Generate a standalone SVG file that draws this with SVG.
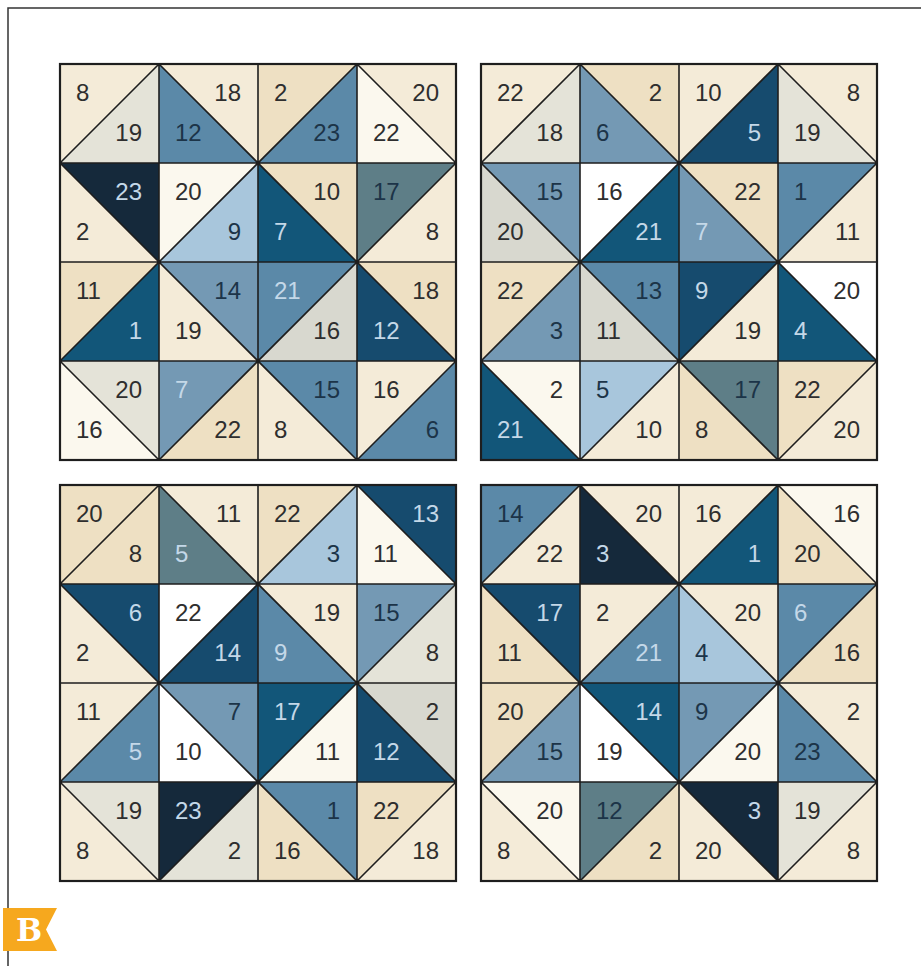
<svg xmlns="http://www.w3.org/2000/svg" width="921" height="966" viewBox="0 0 921 966">
<style>
text{font-family:"Liberation Sans",Arial,sans-serif;font-size:24px}
.e{text-anchor:end}
.d{fill:#2e2e2e}.k{fill:#1c3448}.l{fill:#c4d8e8}
.tan{fill:#eee0c3}.crm{fill:#f4ebd8}.wht{fill:#fbf8ee}.pw{fill:#ffffff}
.gry{fill:#e4e3d8}.gry2{fill:#d8d8cf}.lb{fill:#a8c6dc}.mb{fill:#5b89a8}
.mb2{fill:#7499b4}.sl{fill:#5e7e87}.dt{fill:#125679}.dt2{fill:#164b6e}.nv{fill:#15293b}
.grid{fill:none;stroke:#1e1e1e;stroke-width:1.6}
.outer{fill:none;stroke:#1e1e1e;stroke-width:2.2}
</style>
<defs>
<polygon id="ul" points="0,0 99,0 0,99"/>
<polygon id="lr" points="99,0 99,99 0,99"/>
<polygon id="ur" points="0,0 99,0 99,99"/>
<polygon id="ll" points="0,0 99,99 0,99"/>
<path id="lines" d="M99,0V396M198,0V396M297,0V396M0,99H396M0,198H396M0,297H396M0,99L99,0M0,297L297,0M99,396L396,99M297,396L396,297M99,0L396,297M297,0L396,99M0,99L297,396M0,297L99,396"/>
</defs>
<rect width="921" height="966" fill="#ffffff"/>
<path d="M8,966V8H921" fill="none" stroke="#333" stroke-width="1.5"/>

<g id="block-tl" transform="translate(60,64)">
<g id="tl-r0c0"><use href="#ul" class="crm"/><use href="#lr" class="gry"/><text x="16" y="37" class="d">8</text><text x="82" y="77" class="d e">19</text></g>
<g id="tl-r0c1" transform="translate(99,0)"><use href="#ur" class="crm"/><use href="#ll" class="mb"/><text x="82" y="37" class="d e">18</text><text x="16" y="77" class="k">12</text></g>
<g id="tl-r0c2" transform="translate(198,0)"><use href="#ul" class="tan"/><use href="#lr" class="mb"/><text x="16" y="37" class="d">2</text><text x="82" y="77" class="k e">23</text></g>
<g id="tl-r0c3" transform="translate(297,0)"><use href="#ur" class="crm"/><use href="#ll" class="wht"/><text x="82" y="37" class="d e">20</text><text x="16" y="77" class="d">22</text></g>
<g id="tl-r1c0" transform="translate(0,99)"><use href="#ur" class="nv"/><use href="#ll" class="crm"/><text x="82" y="37" class="l e">23</text><text x="16" y="77" class="d">2</text></g>
<g id="tl-r1c1" transform="translate(99,99)"><use href="#ul" class="wht"/><use href="#lr" class="lb"/><text x="16" y="37" class="d">20</text><text x="82" y="77" class="k e">9</text></g>
<g id="tl-r1c2" transform="translate(198,99)"><use href="#ur" class="tan"/><use href="#ll" class="dt"/><text x="82" y="37" class="d e">10</text><text x="16" y="77" class="l">7</text></g>
<g id="tl-r1c3" transform="translate(297,99)"><use href="#ul" class="sl"/><use href="#lr" class="crm"/><text x="16" y="37" class="k">17</text><text x="82" y="77" class="d e">8</text></g>
<g id="tl-r2c0" transform="translate(0,198)"><use href="#ul" class="tan"/><use href="#lr" class="dt"/><text x="16" y="37" class="d">11</text><text x="82" y="77" class="l e">1</text></g>
<g id="tl-r2c1" transform="translate(99,198)"><use href="#ur" class="mb2"/><use href="#ll" class="crm"/><text x="82" y="37" class="k e">14</text><text x="16" y="77" class="d">19</text></g>
<g id="tl-r2c2" transform="translate(198,198)"><use href="#ul" class="mb"/><use href="#lr" class="gry2"/><text x="16" y="37" class="l">21</text><text x="82" y="77" class="d e">16</text></g>
<g id="tl-r2c3" transform="translate(297,198)"><use href="#ur" class="tan"/><use href="#ll" class="dt2"/><text x="82" y="37" class="d e">18</text><text x="16" y="77" class="l">12</text></g>
<g id="tl-r3c0" transform="translate(0,297)"><use href="#ur" class="gry"/><use href="#ll" class="wht"/><text x="82" y="37" class="d e">20</text><text x="16" y="77" class="d">16</text></g>
<g id="tl-r3c1" transform="translate(99,297)"><use href="#ul" class="mb2"/><use href="#lr" class="tan"/><text x="16" y="37" class="l">7</text><text x="82" y="77" class="d e">22</text></g>
<g id="tl-r3c2" transform="translate(198,297)"><use href="#ur" class="mb"/><use href="#ll" class="crm"/><text x="82" y="37" class="k e">15</text><text x="16" y="77" class="d">8</text></g>
<g id="tl-r3c3" transform="translate(297,297)"><use href="#ul" class="crm"/><use href="#lr" class="mb"/><text x="16" y="37" class="d">16</text><text x="82" y="77" class="k e">6</text></g>
</g>

<g id="block-tr" transform="translate(481,64)">
<g id="tr-r0c0"><use href="#ul" class="crm"/><use href="#lr" class="gry"/><text x="16" y="37" class="d">22</text><text x="82" y="77" class="d e">18</text></g>
<g id="tr-r0c1" transform="translate(99,0)"><use href="#ur" class="tan"/><use href="#ll" class="mb2"/><text x="82" y="37" class="d e">2</text><text x="16" y="77" class="k">6</text></g>
<g id="tr-r0c2" transform="translate(198,0)"><use href="#ul" class="crm"/><use href="#lr" class="dt2"/><text x="16" y="37" class="d">10</text><text x="82" y="77" class="l e">5</text></g>
<g id="tr-r0c3" transform="translate(297,0)"><use href="#ur" class="crm"/><use href="#ll" class="gry"/><text x="82" y="37" class="d e">8</text><text x="16" y="77" class="d">19</text></g>
<g id="tr-r1c0" transform="translate(0,99)"><use href="#ur" class="mb2"/><use href="#ll" class="gry2"/><text x="82" y="37" class="k e">15</text><text x="16" y="77" class="d">20</text></g>
<g id="tr-r1c1" transform="translate(99,99)"><use href="#ul" class="pw"/><use href="#lr" class="dt"/><text x="16" y="37" class="d">16</text><text x="82" y="77" class="l e">21</text></g>
<g id="tr-r1c2" transform="translate(198,99)"><use href="#ur" class="tan"/><use href="#ll" class="mb2"/><text x="82" y="37" class="d e">22</text><text x="16" y="77" class="l">7</text></g>
<g id="tr-r1c3" transform="translate(297,99)"><use href="#ul" class="mb"/><use href="#lr" class="crm"/><text x="16" y="37" class="k">1</text><text x="82" y="77" class="d e">11</text></g>
<g id="tr-r2c0" transform="translate(0,198)"><use href="#ul" class="tan"/><use href="#lr" class="mb2"/><text x="16" y="37" class="d">22</text><text x="82" y="77" class="k e">3</text></g>
<g id="tr-r2c1" transform="translate(99,198)"><use href="#ur" class="mb"/><use href="#ll" class="gry2"/><text x="82" y="37" class="k e">13</text><text x="16" y="77" class="d">11</text></g>
<g id="tr-r2c2" transform="translate(198,198)"><use href="#ul" class="dt2"/><use href="#lr" class="crm"/><text x="16" y="37" class="l">9</text><text x="82" y="77" class="d e">19</text></g>
<g id="tr-r2c3" transform="translate(297,198)"><use href="#ur" class="pw"/><use href="#ll" class="dt"/><text x="82" y="37" class="d e">20</text><text x="16" y="77" class="l">4</text></g>
<g id="tr-r3c0" transform="translate(0,297)"><use href="#ur" class="wht"/><use href="#ll" class="dt"/><text x="82" y="37" class="d e">2</text><text x="16" y="77" class="l">21</text></g>
<g id="tr-r3c1" transform="translate(99,297)"><use href="#ul" class="lb"/><use href="#lr" class="crm"/><text x="16" y="37" class="k">5</text><text x="82" y="77" class="d e">10</text></g>
<g id="tr-r3c2" transform="translate(198,297)"><use href="#ur" class="sl"/><use href="#ll" class="tan"/><text x="82" y="37" class="k e">17</text><text x="16" y="77" class="d">8</text></g>
<g id="tr-r3c3" transform="translate(297,297)"><use href="#ul" class="tan"/><use href="#lr" class="crm"/><text x="16" y="37" class="d">22</text><text x="82" y="77" class="d e">20</text></g>
</g>

<g id="block-bl" transform="translate(60,485)">
<g id="bl-r0c0"><use href="#ul" class="tan"/><use href="#lr" class="tan"/><text x="16" y="37" class="d">20</text><text x="82" y="77" class="d e">8</text></g>
<g id="bl-r0c1" transform="translate(99,0)"><use href="#ur" class="crm"/><use href="#ll" class="sl"/><text x="82" y="37" class="d e">11</text><text x="16" y="77" class="l">5</text></g>
<g id="bl-r0c2" transform="translate(198,0)"><use href="#ul" class="tan"/><use href="#lr" class="lb"/><text x="16" y="37" class="d">22</text><text x="82" y="77" class="k e">3</text></g>
<g id="bl-r0c3" transform="translate(297,0)"><use href="#ur" class="dt2"/><use href="#ll" class="wht"/><text x="82" y="37" class="l e">13</text><text x="16" y="77" class="d">11</text></g>
<g id="bl-r1c0" transform="translate(0,99)"><use href="#ur" class="dt2"/><use href="#ll" class="crm"/><text x="82" y="37" class="l e">6</text><text x="16" y="77" class="d">2</text></g>
<g id="bl-r1c1" transform="translate(99,99)"><use href="#ul" class="pw"/><use href="#lr" class="dt2"/><text x="16" y="37" class="d">22</text><text x="82" y="77" class="l e">14</text></g>
<g id="bl-r1c2" transform="translate(198,99)"><use href="#ur" class="crm"/><use href="#ll" class="mb"/><text x="82" y="37" class="d e">19</text><text x="16" y="77" class="l">9</text></g>
<g id="bl-r1c3" transform="translate(297,99)"><use href="#ul" class="mb2"/><use href="#lr" class="gry"/><text x="16" y="37" class="k">15</text><text x="82" y="77" class="d e">8</text></g>
<g id="bl-r2c0" transform="translate(0,198)"><use href="#ul" class="crm"/><use href="#lr" class="mb"/><text x="16" y="37" class="d">11</text><text x="82" y="77" class="l e">5</text></g>
<g id="bl-r2c1" transform="translate(99,198)"><use href="#ur" class="mb2"/><use href="#ll" class="pw"/><text x="82" y="37" class="k e">7</text><text x="16" y="77" class="d">10</text></g>
<g id="bl-r2c2" transform="translate(198,198)"><use href="#ul" class="dt"/><use href="#lr" class="wht"/><text x="16" y="37" class="l">17</text><text x="82" y="77" class="d e">11</text></g>
<g id="bl-r2c3" transform="translate(297,198)"><use href="#ur" class="gry2"/><use href="#ll" class="dt2"/><text x="82" y="37" class="d e">2</text><text x="16" y="77" class="l">12</text></g>
<g id="bl-r3c0" transform="translate(0,297)"><use href="#ur" class="gry"/><use href="#ll" class="crm"/><text x="82" y="37" class="d e">19</text><text x="16" y="77" class="d">8</text></g>
<g id="bl-r3c1" transform="translate(99,297)"><use href="#ul" class="nv"/><use href="#lr" class="gry"/><text x="16" y="37" class="l">23</text><text x="82" y="77" class="d e">2</text></g>
<g id="bl-r3c2" transform="translate(198,297)"><use href="#ur" class="mb"/><use href="#ll" class="tan"/><text x="82" y="37" class="k e">1</text><text x="16" y="77" class="d">16</text></g>
<g id="bl-r3c3" transform="translate(297,297)"><use href="#ul" class="tan"/><use href="#lr" class="crm"/><text x="16" y="37" class="d">22</text><text x="82" y="77" class="d e">18</text></g>
</g>

<g id="block-br" transform="translate(481,485)">
<g id="br-r0c0"><use href="#ul" class="mb"/><use href="#lr" class="crm"/><text x="16" y="37" class="k">14</text><text x="82" y="77" class="d e">22</text></g>
<g id="br-r0c1" transform="translate(99,0)"><use href="#ur" class="crm"/><use href="#ll" class="nv"/><text x="82" y="37" class="d e">20</text><text x="16" y="77" class="l">3</text></g>
<g id="br-r0c2" transform="translate(198,0)"><use href="#ul" class="crm"/><use href="#lr" class="dt"/><text x="16" y="37" class="d">16</text><text x="82" y="77" class="l e">1</text></g>
<g id="br-r0c3" transform="translate(297,0)"><use href="#ur" class="wht"/><use href="#ll" class="tan"/><text x="82" y="37" class="d e">16</text><text x="16" y="77" class="d">20</text></g>
<g id="br-r1c0" transform="translate(0,99)"><use href="#ur" class="dt2"/><use href="#ll" class="tan"/><text x="82" y="37" class="l e">17</text><text x="16" y="77" class="d">11</text></g>
<g id="br-r1c1" transform="translate(99,99)"><use href="#ul" class="crm"/><use href="#lr" class="mb"/><text x="16" y="37" class="d">2</text><text x="82" y="77" class="l e">21</text></g>
<g id="br-r1c2" transform="translate(198,99)"><use href="#ur" class="crm"/><use href="#ll" class="lb"/><text x="82" y="37" class="d e">20</text><text x="16" y="77" class="k">4</text></g>
<g id="br-r1c3" transform="translate(297,99)"><use href="#ul" class="mb"/><use href="#lr" class="tan"/><text x="16" y="37" class="l">6</text><text x="82" y="77" class="d e">16</text></g>
<g id="br-r2c0" transform="translate(0,198)"><use href="#ul" class="tan"/><use href="#lr" class="mb2"/><text x="16" y="37" class="d">20</text><text x="82" y="77" class="k e">15</text></g>
<g id="br-r2c1" transform="translate(99,198)"><use href="#ur" class="dt"/><use href="#ll" class="pw"/><text x="82" y="37" class="l e">14</text><text x="16" y="77" class="d">19</text></g>
<g id="br-r2c2" transform="translate(198,198)"><use href="#ul" class="mb2"/><use href="#lr" class="wht"/><text x="16" y="37" class="k">9</text><text x="82" y="77" class="d e">20</text></g>
<g id="br-r2c3" transform="translate(297,198)"><use href="#ur" class="crm"/><use href="#ll" class="mb"/><text x="82" y="37" class="d e">2</text><text x="16" y="77" class="k">23</text></g>
<g id="br-r3c0" transform="translate(0,297)"><use href="#ur" class="wht"/><use href="#ll" class="crm"/><text x="82" y="37" class="d e">20</text><text x="16" y="77" class="d">8</text></g>
<g id="br-r3c1" transform="translate(99,297)"><use href="#ul" class="sl"/><use href="#lr" class="tan"/><text x="16" y="37" class="k">12</text><text x="82" y="77" class="d e">2</text></g>
<g id="br-r3c2" transform="translate(198,297)"><use href="#ur" class="nv"/><use href="#ll" class="crm"/><text x="82" y="37" class="l e">3</text><text x="16" y="77" class="d">20</text></g>
<g id="br-r3c3" transform="translate(297,297)"><use href="#ul" class="gry"/><use href="#lr" class="crm"/><text x="16" y="37" class="d">19</text><text x="82" y="77" class="d e">8</text></g>
</g>

<g id="connectors">
<g transform="translate(60,64)"><use href="#lines" class="grid"/><rect width="396" height="396" class="outer"/></g>
<g transform="translate(481,64)"><use href="#lines" class="grid"/><rect width="396" height="396" class="outer"/></g>
<g transform="translate(60,485)"><use href="#lines" class="grid"/><rect width="396" height="396" class="outer"/></g>
<g transform="translate(481,485)"><use href="#lines" class="grid"/><rect width="396" height="396" class="outer"/></g>
</g>

<g id="tag-b">
<polygon points="3,908 57,908 46,929.5 57,951 3,951" fill="#f6a81e"/>
<text x="29" y="941" text-anchor="middle" style="font-family:'DejaVu Serif','Liberation Serif',serif;font-size:31px;font-weight:bold" fill="#ffffff">B</text>
</g>
</svg>
